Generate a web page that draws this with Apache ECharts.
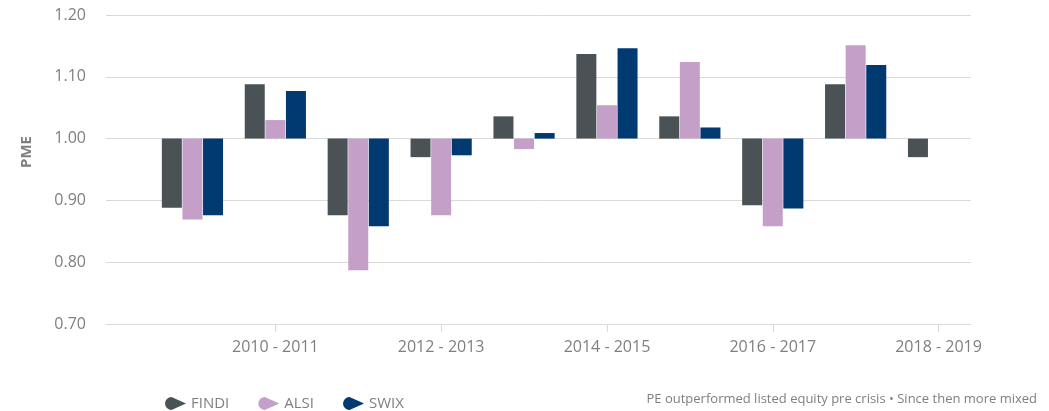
<!DOCTYPE html>
<html>
<head>
<meta charset="utf-8">
<script src="https://cdn.jsdelivr.net/npm/echarts@6/dist/echarts.min.js"></script>
<style>
  html, body { margin: 0; padding: 0; background: #fff; }
  #chart { width: 1049px; height: 411px; }
</style>
</head>
<body>
<div id="chart"></div>
<script>
// PME by period, baseline 1.00
var categories = ['2009 - 2010', '2010 - 2011', '2011 - 2012', '2012 - 2013', '2013 - 2014',
                  '2014 - 2015', '2015 - 2016', '2016 - 2017', '2017 - 2018', '2018 - 2019'];
var findi = [0.888, 1.088, 0.876, 0.970, 1.036, 1.137, 1.036, 0.892, 1.088, 0.970];
var alsi  = [0.869, 1.030, 0.787, 0.876, 0.983, 1.054, 1.124, 0.858, 1.151, null];
var swix  = [0.876, 1.077, 0.858, 0.973, 1.009, 1.146, 1.018, 0.887, 1.119, null];
var yTicks = [0.70, 0.80, 0.90, 1.00, 1.10, 1.20];
var baseLine = 1.00;

var font = 'Open Sans';
var grey = '#7f7f7f';
var gridGrey = '#d9d9d9';
var icon = 'path://M6.5,0 L21,6.5 L6.5,13 A6.5,6.5 0 0,1 6.5,0 Z';

// bars are drawn relative to 1.00 so they grow up/down from it
function rel(arr) {
    return arr.map(function (v) { return v == null ? null : +(v - baseLine).toFixed(4); });
}
var yMin = +(yTicks[0] - baseLine).toFixed(2);
var yMax = +(yTicks[yTicks.length - 1] - baseLine).toFixed(2);
var oddOnly = function (i) { return i % 2 === 1; };

var myChart = echarts.init(document.getElementById('chart'));
myChart.setOption({
    animation: false,
    color: ['#4a5256', '#c4a0c9', '#003a70'],
    title: {
        text: 'PE outperformed listed equity pre crisis \u2022 Since then more mixed',
        right: 7, top: 388,
        textStyle: { fontFamily: font, fontSize: 13, fontWeight: 'normal', color: grey }
    },
    legend: {
        left: 160, top: 391,
        itemWidth: 21, itemHeight: 13, itemGap: 29,
        textStyle: { fontFamily: font, fontSize: 15, color: grey },
        data: [
            { name: 'FINDI', icon: icon },
            { name: 'ALSI', icon: icon },
            { name: 'SWIX', icon: icon }
        ]
    },
    graphic: [{
        type: 'text', x: 27, y: 152, rotation: Math.PI / 2,
        style: {
            text: 'PME', fill: grey, font: 'bold 15px "Open Sans"',
            align: 'center', verticalAlign: 'middle'
        }
    }],
    grid: [
        { left: 151, right: 69, top: 15, bottom: 87 },
        { left: 106, right: 78, top: 15, bottom: 87 }
    ],
    xAxis: [{
        type: 'category', gridIndex: 0, data: categories,
        axisLine: { show: false, onZero: false },
        axisTick: { show: true, alignWithLabel: true, interval: oddOnly, length: 8,
                    lineStyle: { color: gridGrey } },
        axisLabel: { interval: oddOnly, margin: 15, fontFamily: font, fontSize: 16, color: grey }
    }, {
        type: 'value', gridIndex: 1, show: false
    }],
    yAxis: [{
        type: 'value', gridIndex: 0, min: yMin, max: yMax, interval: 0.1, show: false
    }, {
        type: 'value', gridIndex: 1, min: yMin, max: yMax, interval: 0.1,
        axisLine: { show: false }, axisTick: { show: false },
        splitLine: { lineStyle: { color: gridGrey, width: 1 } },
        axisLabel: {
            margin: 20, fontFamily: font, fontSize: 16, color: grey,
            formatter: function (v) { return (v + baseLine).toFixed(2); }
        }
    }],
    series: [
        { name: 'FINDI', type: 'bar', data: rel(findi), barWidth: 20, barGap: '3%' },
        { name: 'ALSI', type: 'bar', data: rel(alsi), barWidth: 20, barGap: '3%' },
        { name: 'SWIX', type: 'bar', data: rel(swix), barWidth: 20, barGap: '3%' }
    ]
});
</script>
</body>
</html>
